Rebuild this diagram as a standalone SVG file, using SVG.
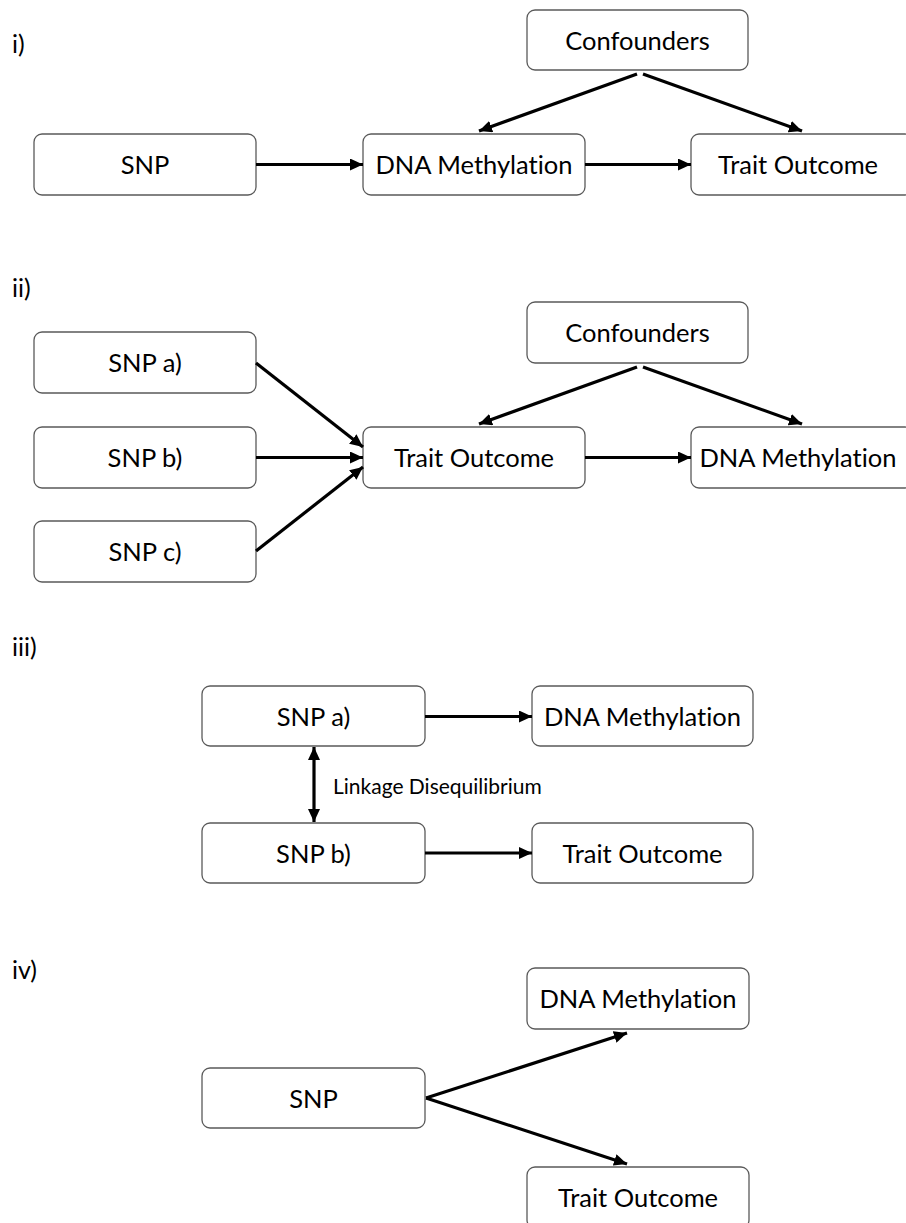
<svg xmlns="http://www.w3.org/2000/svg" width="906" height="1223" viewBox="0 0 906 1223">
<style>
text{font-variant-ligatures:none;font-feature-settings:"liga" 0,"clig" 0}
.box{fill:#fff;stroke:#5a5a5a;stroke-width:1.3}
.lbl{font-family:Lato,"Liberation Sans",sans-serif;font-size:25.5px;fill:#000;text-anchor:middle}
.sec{font-family:Lato,"Liberation Sans",sans-serif;font-size:25px;fill:#000}
.note{font-family:Lato,"Liberation Sans",sans-serif;font-size:21px;fill:#000}
.ar{stroke:#000;stroke-width:3.2;fill:none;marker-end:url(#ah)}
</style>
<defs>
<marker id="ah" viewBox="0 0 13 12" refX="13" refY="6" markerWidth="13" markerHeight="12" markerUnits="userSpaceOnUse" orient="auto-start-reverse">
<path d="M0,0 L13,6 L0,12 Z" fill="#000"/>
</marker>
</defs>
<rect width="906" height="1223" fill="#fff"/>
<text class="sec" x="12" y="53">i)</text>
<text class="sec" x="12" y="297">ii)</text>
<text class="sec" x="12" y="656">iii)</text>
<text class="sec" x="12" y="979">iv)</text>

<g id="i-snp"><rect class="box" x="34" y="134" width="222" height="61" rx="8"/><text class="lbl" x="145" y="174">SNP</text></g>
<g id="i-dna"><rect class="box" x="363" y="134" width="222" height="61" rx="8"/><text class="lbl" x="474" y="174">DNA Methylation</text></g>
<g id="i-trait"><rect class="box" x="691" y="134" width="222" height="61" rx="8"/><text class="lbl" x="798" y="174">Trait Outcome</text></g>
<g id="i-conf"><rect class="box" x="527" y="10" width="221" height="60" rx="8"/><text class="lbl" x="637.5" y="50">Confounders</text></g>

<g id="ii-snpa"><rect class="box" x="34" y="332" width="222" height="61" rx="8"/><text class="lbl" x="145" y="372">SNP a)</text></g>
<g id="ii-snpb"><rect class="box" x="34" y="427" width="222" height="61" rx="8"/><text class="lbl" x="145" y="467">SNP b)</text></g>
<g id="ii-snpc"><rect class="box" x="34" y="521" width="222" height="61" rx="8"/><text class="lbl" x="145" y="561">SNP c)</text></g>
<g id="ii-trait"><rect class="box" x="363" y="427" width="222" height="61" rx="8"/><text class="lbl" x="474" y="467">Trait Outcome</text></g>
<g id="ii-dna"><rect class="box" x="691" y="427" width="222" height="61" rx="8"/><text class="lbl" x="798" y="467">DNA Methylation</text></g>
<g id="ii-conf"><rect class="box" x="527" y="302" width="221" height="61" rx="8"/><text class="lbl" x="637.5" y="342">Confounders</text></g>

<g id="iii-snpa"><rect class="box" x="202" y="686" width="223" height="60" rx="8"/><text class="lbl" x="313.5" y="726">SNP a)</text></g>
<g id="iii-snpb"><rect class="box" x="202" y="823" width="223" height="60" rx="8"/><text class="lbl" x="313.5" y="863">SNP b)</text></g>
<g id="iii-dna"><rect class="box" x="532" y="686" width="221" height="60" rx="8"/><text class="lbl" x="642.5" y="726">DNA Methylation</text></g>
<g id="iii-trait"><rect class="box" x="532" y="823" width="221" height="60" rx="8"/><text class="lbl" x="642.5" y="863">Trait Outcome</text></g>

<g id="iv-snp"><rect class="box" x="202" y="1068" width="223" height="60" rx="8"/><text class="lbl" x="313.5" y="1108">SNP</text></g>
<g id="iv-dna"><rect class="box" x="527" y="968" width="222" height="61" rx="8"/><text class="lbl" x="638" y="1008">DNA Methylation</text></g>
<g id="iv-trait"><rect class="box" x="527" y="1167" width="222" height="61" rx="8"/><text class="lbl" x="638" y="1207">Trait Outcome</text></g>

<g id="connectors">
<line class="ar" x1="256" y1="164.5" x2="363" y2="164.5"/>
<line class="ar" x1="585" y1="164.5" x2="691" y2="164.5"/>
<line class="ar" x1="637" y1="74" x2="479" y2="131"/>
<line class="ar" x1="643" y1="74" x2="802" y2="131"/>

<line class="ar" x1="256" y1="363" x2="363" y2="447"/>
<line class="ar" x1="256" y1="457.5" x2="363" y2="457.5"/>
<line class="ar" x1="256" y1="551" x2="363" y2="467"/>
<line class="ar" x1="637" y1="367" x2="479" y2="424"/>
<line class="ar" x1="643" y1="367" x2="802" y2="424"/>
<line class="ar" x1="585" y1="457.5" x2="691" y2="457.5"/>

<line class="ar" x1="425" y1="716.5" x2="532" y2="716.5"/>
<line class="ar" x1="425" y1="853" x2="532" y2="853"/>
<line class="ar" x1="314" y1="747" x2="314" y2="822" style="marker-start:url(#ah)"/>
<text class="note" x="333" y="794">Linkage Disequilibrium</text>

<line class="ar" x1="426" y1="1098" x2="627" y2="1033"/>
<line class="ar" x1="426" y1="1098" x2="627" y2="1164"/>
</g>
</svg>
